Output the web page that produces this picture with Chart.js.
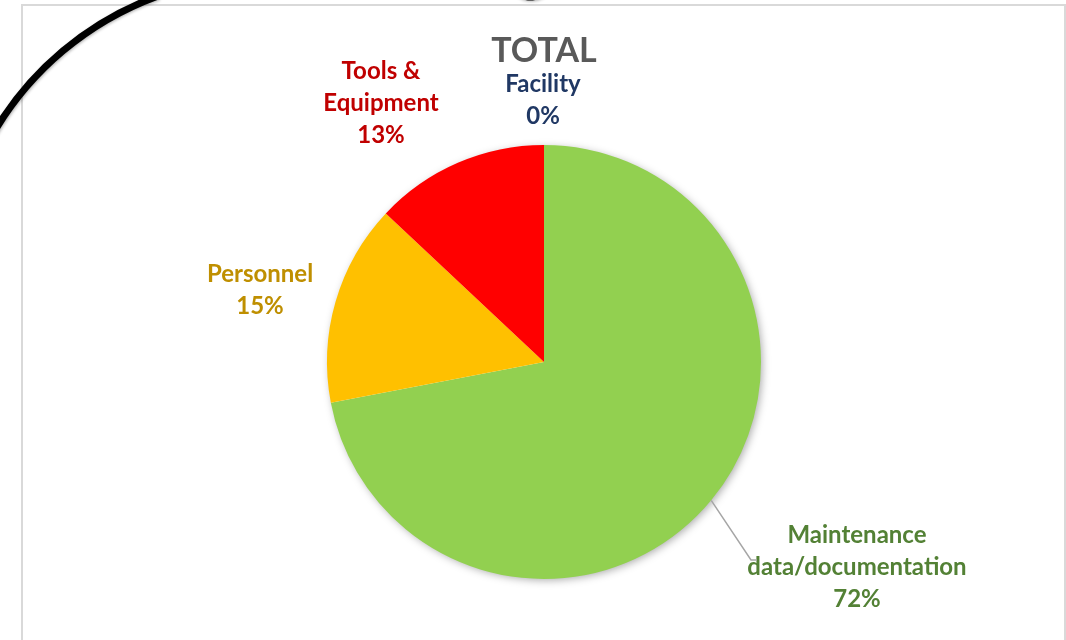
<!DOCTYPE html>
<html>
<head>
<meta charset="utf-8">
<title>TOTAL</title>
<script src="https://cdn.jsdelivr.net/npm/chart.js@4.4.1/dist/chart.umd.min.js"></script>
<style>
  html, body { margin: 0; padding: 0; background: #fff; }
  #wrap { width: 1066px; height: 640px; position: relative; }
</style>
</head>
<body>
<div id="wrap"><canvas id="pie"></canvas></div>
<script>
// ── Data ──────────────────────────────────────────────────────
const categories  = ['Maintenance data/documentation', 'Personnel', 'Tools & Equipment', 'Facility'];
const labelLines  = [['Maintenance', 'data/documentation'], ['Personnel'], ['Tools &', 'Equipment'], ['Facility']];
const shares      = [72, 15, 13, 0];
const sliceColors = ['#92D050', '#FFC000', '#FF0000', '#1F3864'];
const labelColors = ['#538135', '#BF8F00', '#C00000', '#203864'];

// label block centres, relative to the pie centre (Excel moved these by hand)
const labelOffsets = [[313, 205], [-284, -72], [-163, -259], [-1, -262]];
const LINE_H = 32;
const FONT   = "bold 24px Lato, 'Open Sans', sans-serif";

// ── Frame, title, hand-drawn annotation ───────────────────────
const decoPlugin = {
  id: 'deco',
  beforeDraw(chart) {
    const { ctx } = chart;
    ctx.save();
    ctx.fillStyle = '#fff';
    ctx.fillRect(0, 0, chart.width, chart.height);
    ctx.strokeStyle = '#D9D9D9';
    ctx.lineWidth = 2;
    ctx.strokeRect(22, 5, 1043, 700);
    ctx.restore();
  },
  beforeDatasetsDraw(chart) {
    // soft drop shadow under the whole pie
    const arc = chart.getDatasetMeta(0).data[0];
    const { ctx } = chart;
    ctx.save();
    ctx.shadowColor   = 'rgba(0,0,0,0.35)';
    ctx.shadowBlur    = 9;
    ctx.shadowOffsetX = 2;
    ctx.shadowOffsetY = 2;
    ctx.fillStyle = '#fff';
    ctx.beginPath();
    ctx.arc(arc.x, arc.y, arc.outerRadius - 1, 0, Math.PI * 2);
    ctx.fill();
    ctx.restore();
  },
  afterDraw(chart) {
    const { ctx } = chart;
    const meta  = chart.getDatasetMeta(0);
    const cx    = meta.data[0].x;
    const cy    = meta.data[0].y;
    const total = shares.reduce((a, b) => a + b, 0);

    ctx.save();
    // title
    ctx.textAlign    = 'center';
    ctx.textBaseline = 'middle';
    ctx.fillStyle    = '#595959';
    ctx.font         = "bold 34px Lato, 'Open Sans', sans-serif";
    ctx.fillText('TOTAL', cx, 51);

    // data labels
    ctx.font = FONT;
    meta.data.forEach((arc, i) => {
      const lines = [...labelLines[i], Math.round(shares[i] / total * 100) + '%'];
      const lx = cx + labelOffsets[i][0];
      const ly = cy + labelOffsets[i][1];
      const y0 = ly - (lines.length - 1) * LINE_H / 2;
      ctx.fillStyle = labelColors[i];
      lines.forEach((t, k) => ctx.fillText(t, lx, y0 + k * LINE_H));

      // leader line for the big slice
      if (i === 0) {
        const mid = (arc.startAngle + arc.endAngle) / 2;
        ctx.strokeStyle = '#A6A6A6';
        ctx.lineWidth   = 1.5;
        ctx.beginPath();
        ctx.moveTo(cx + Math.cos(mid) * arc.outerRadius, cy + Math.sin(mid) * arc.outerRadius);
        ctx.lineTo(lx - 106, ly - 7);
        ctx.lineTo(lx - 100, ly - 7);
        ctx.stroke();
      }
    });

    // hand-drawn circle round the chart (only two bits are on screen)
    ctx.shadowColor   = 'rgba(0,0,0,0.3)';
    ctx.shadowBlur    = 3;
    ctx.shadowOffsetX = 1;
    ctx.shadowOffsetY = 1;
    ctx.strokeStyle = '#000';
    ctx.lineWidth   = 7;
    ctx.beginPath();
    ctx.arc(266, 293, 316, -150 * Math.PI / 180, -110 * Math.PI / 180);
    ctx.stroke();
    ctx.beginPath();
    ctx.moveTo(518, -7);
    ctx.quadraticCurveTo(530, 1, 543, -7);
    ctx.stroke();
    ctx.restore();
  }
};

new Chart(document.getElementById('pie'), {
  type: 'pie',
  data: {
    labels: categories,
    datasets: [{
      data:            shares,
      backgroundColor: sliceColors,
      borderWidth:     0,
    }]
  },
  options: {
    responsive:          true,
    maintainAspectRatio: false,
    animation:           false,
    layout: { padding: { top: 145, bottom: 61, left: 22, right: 0 } },
    plugins: {
      legend:  { display: false },
      tooltip: { enabled: false },
    }
  },
  plugins: [decoPlugin]
});
</script>
</body>
</html>
